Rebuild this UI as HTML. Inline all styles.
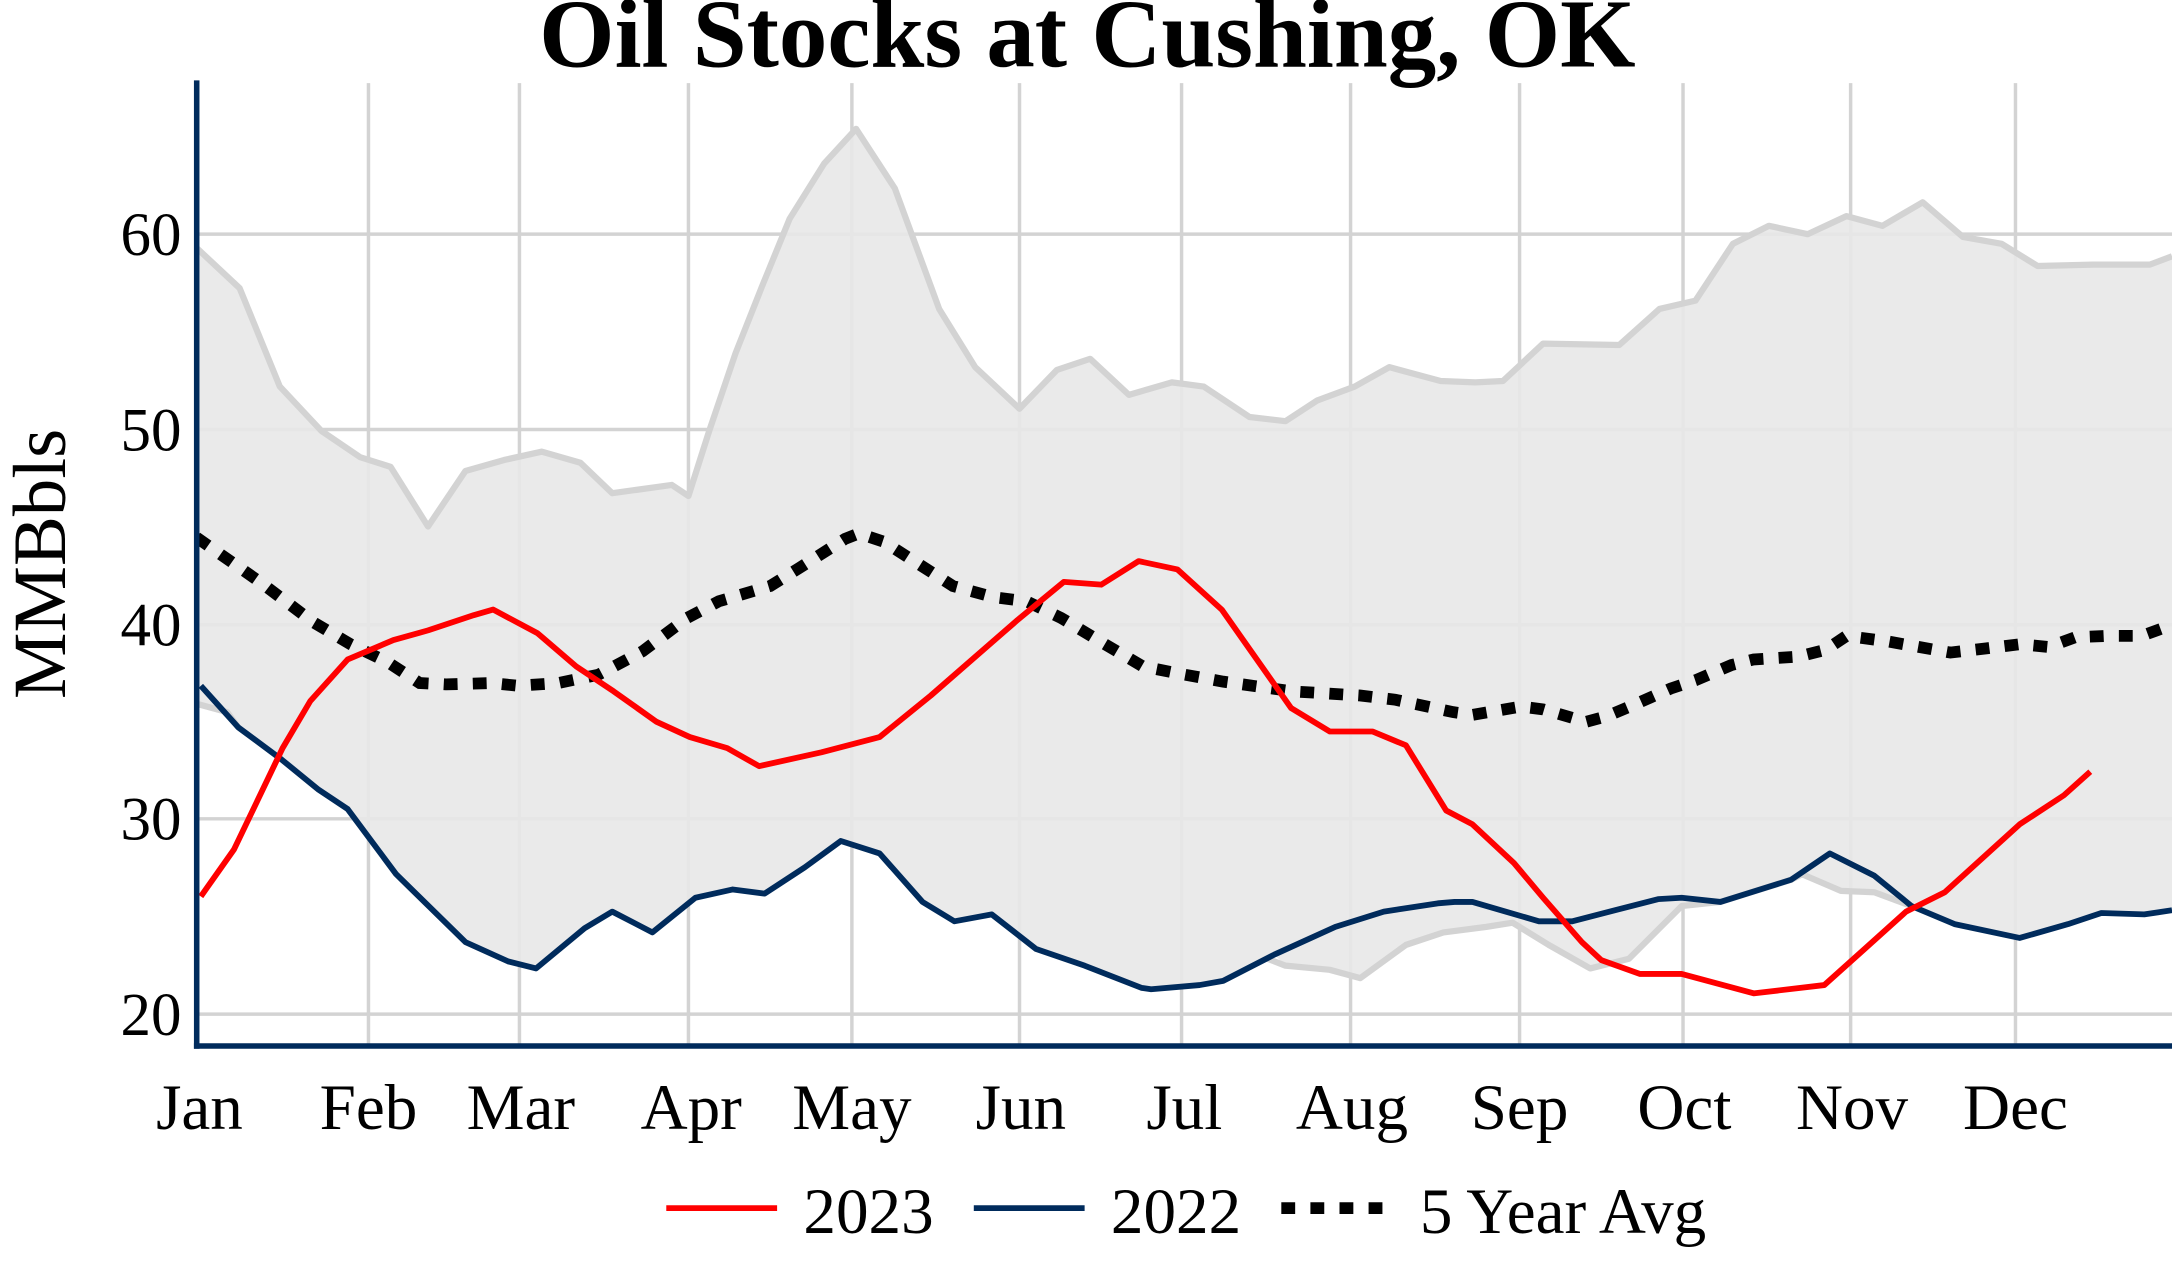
<!DOCTYPE html>
<html><head><meta charset="utf-8"><style>
html,body{margin:0;padding:0;background:#fff;}
svg{display:block;}
text{font-family:"Liberation Serif",serif;fill:#000;}
</style></head><body>
<svg width="2172" height="1276" viewBox="0 0 1568 921" preserveAspectRatio="none" xmlns="http://www.w3.org/2000/svg">
<defs><clipPath id="c"><rect x="142" y="60" width="1426" height="695"/></clipPath></defs>
<g stroke="#d3d3d3" stroke-width="2.5">
<line x1="142" y1="169" x2="1568" y2="169"/><line x1="142" y1="310" x2="1568" y2="310"/><line x1="142" y1="451" x2="1568" y2="451"/><line x1="142" y1="591" x2="1568" y2="591"/><line x1="142" y1="732" x2="1568" y2="732"/>
<line x1="266" y1="60" x2="266" y2="755"/><line x1="375" y1="60" x2="375" y2="755"/><line x1="497" y1="60" x2="497" y2="755"/><line x1="615" y1="60" x2="615" y2="755"/><line x1="736" y1="60" x2="736" y2="755"/><line x1="853" y1="60" x2="853" y2="755"/><line x1="975" y1="60" x2="975" y2="755"/><line x1="1097" y1="60" x2="1097" y2="755"/><line x1="1215" y1="60" x2="1215" y2="755"/><line x1="1336" y1="60" x2="1336" y2="755"/><line x1="1455" y1="60" x2="1455" y2="755"/>
</g>
<g clip-path="url(#c)">
<polygon fill="#e8e8e8" fill-opacity="0.9" points="142,179 173,208 202,279 232,311 260,330 282,337 309,380 336,340 364,332 391,326 419,334 442,356 485,350 497,358 512,311 531,255 550,207 570,158 595,118 618,93 646,136 678,223 704,265 736,295 763,267 787,259 815,285 846,276 869,279 902,301 928,304 951,289 978,279 1003,265 1040,275 1065,276 1085,275 1114,248 1169,249 1198,223 1224,217 1251,176 1277,163 1305,169 1333,156 1359,163 1388,146 1417,171 1445,176 1471,192 1511,191 1552,191 1568,185 1568,657 1548,660 1517,659 1493,667 1458,677 1411,667 1380,654 1353,644 1329,643 1301,631 1293,635 1242,651 1214,654 1176,692 1148,699 1118,682 1092,666 1073,669 1042,673 1015,682 982,706 960,700 928,697 920,689 883,708 866,711 831,714 824,713 783,697 748,685 716,660 689,665 666,651 635,616 607,607 581,626 552,645 529,642 502,648 469,673 442,658 422,670 387,699 367,694 336,680 286,631 251,584 230,570 203,548 172,525 164,514 142,508"/>
<polyline fill="none" stroke="#d3d3d3" stroke-width="4.5" stroke-linejoin="round" points="142,179 173,208 202,279 232,311 260,330 282,337 309,380 336,340 364,332 391,326 419,334 442,356 485,350 497,358 512,311 531,255 550,207 570,158 595,118 618,93 646,136 678,223 704,265 736,295 763,267 787,259 815,285 846,276 869,279 902,301 928,304 951,289 978,279 1003,265 1040,275 1065,276 1085,275 1114,248 1169,249 1198,223 1224,217 1251,176 1277,163 1305,169 1333,156 1359,163 1388,146 1417,171 1445,176 1471,192 1511,191 1552,191 1568,185"/>
<polyline fill="none" stroke="#d3d3d3" stroke-width="4.5" stroke-linejoin="round" points="142,508 164,514 172,525"/>
<polyline fill="none" stroke="#d3d3d3" stroke-width="4.5" stroke-linejoin="round" points="915,692 928,697 960,700 982,706 1015,682 1042,673 1073,669 1092,666 1118,682 1148,699 1176,692 1214,654 1242,651 1293,635 1301,631 1329,643 1353,644 1380,654"/>
<polyline fill="none" stroke="#000" stroke-width="8.5" stroke-dasharray="10 11" points="142,388 189,421 226,449 253,465 280,478 303,493 322,494 355,493 374,495 403,493 432,487 464,470 496,446 519,434 556,423 577,410 610,389 620,385 638,391 663,407 688,423 717,431 741,434 766,446 796,464 825,481 850,486 883,492 933,499 982,502 1007,505 1049,514 1063,516 1098,510 1114,512 1145,521 1160,517 1179,509 1206,497 1224,491 1250,480 1266,476 1298,474 1318,469 1333,459 1363,463 1408,471 1434,468 1458,465 1479,467 1498,460 1521,459 1546,459 1568,451"/>
<polyline fill="none" stroke="#002b5c" stroke-width="4.2" stroke-linejoin="round" points="145,495 172,525 203,548 230,570 251,584 286,631 336,680 367,694 387,699 422,670 442,658 471,673 502,648 529,642 552,645 581,626 607,607 635,616 666,651 689,665 716,660 748,685 783,697 824,713 831,714 866,711 883,708 920,689 964,669 999,658 1038,652 1050,651 1063,651 1111,665 1135,665 1166,657 1197,649 1214,648 1242,651 1293,635 1321,616 1353,632 1380,654 1411,667 1458,677 1493,667 1517,659 1548,660 1568,657"/>
<polyline fill="none" stroke="#ff0000" stroke-width="4.2" stroke-linejoin="round" points="145,647 169,613 204,540 224,506 251,476 284,462 309,455 342,444 356,440 388,457 416,481 443,499 474,521 498,532 525,540 548,553 593,543 635,532 672,502 734,448 768,420 795,422 822,405 850,411 882,440 932,511 960,528 991,528 1015,538 1044,585 1063,595 1093,623 1114,648 1142,680 1156,693 1184,703 1214,703 1266,717 1317,711 1346,685 1376,658 1404,644 1458,595 1490,574 1509,557"/>
</g>
<line x1="142" y1="58" x2="142" y2="757" stroke="#002b5c" stroke-width="4"/>
<line x1="140" y1="755" x2="1568" y2="755" stroke="#002b5c" stroke-width="4"/>
<text x="785" y="48" font-size="70" font-weight="bold" text-anchor="middle">Oil Stocks at Cushing, OK</text>
<g font-size="44" text-anchor="end">
<text x="131" y="184">60</text><text x="131" y="325">50</text><text x="131" y="466">40</text><text x="131" y="606">30</text><text x="131" y="747">20</text>
</g>
<text transform="translate(47,407) rotate(-90)" font-size="54" text-anchor="middle">MMBbls</text>
<g font-size="47" text-anchor="middle">
<text x="144" y="815">Jan</text><text x="266" y="815">Feb</text><text x="376" y="815">Mar</text><text x="499" y="815">Apr</text><text x="615" y="815">May</text><text x="737" y="815">Jun</text><text x="855" y="815">Jul</text><text x="976" y="815">Aug</text><text x="1097" y="815">Sep</text><text x="1216" y="815">Oct</text><text x="1337" y="815">Nov</text><text x="1455" y="815">Dec</text>
</g>
<line x1="481" y1="872" x2="561" y2="872" stroke="#ff0000" stroke-width="4.2"/>
<text x="580" y="890" font-size="47">2023</text>
<line x1="703" y1="872" x2="783" y2="872" stroke="#002b5c" stroke-width="4.2"/>
<text x="802" y="890" font-size="47">2022</text>
<line x1="925" y1="872" x2="1005" y2="872" stroke="#000" stroke-width="8.5" stroke-dasharray="10 11"/>
<text x="1025" y="890" font-size="47">5 Year Avg</text>
</svg>
</body></html>
